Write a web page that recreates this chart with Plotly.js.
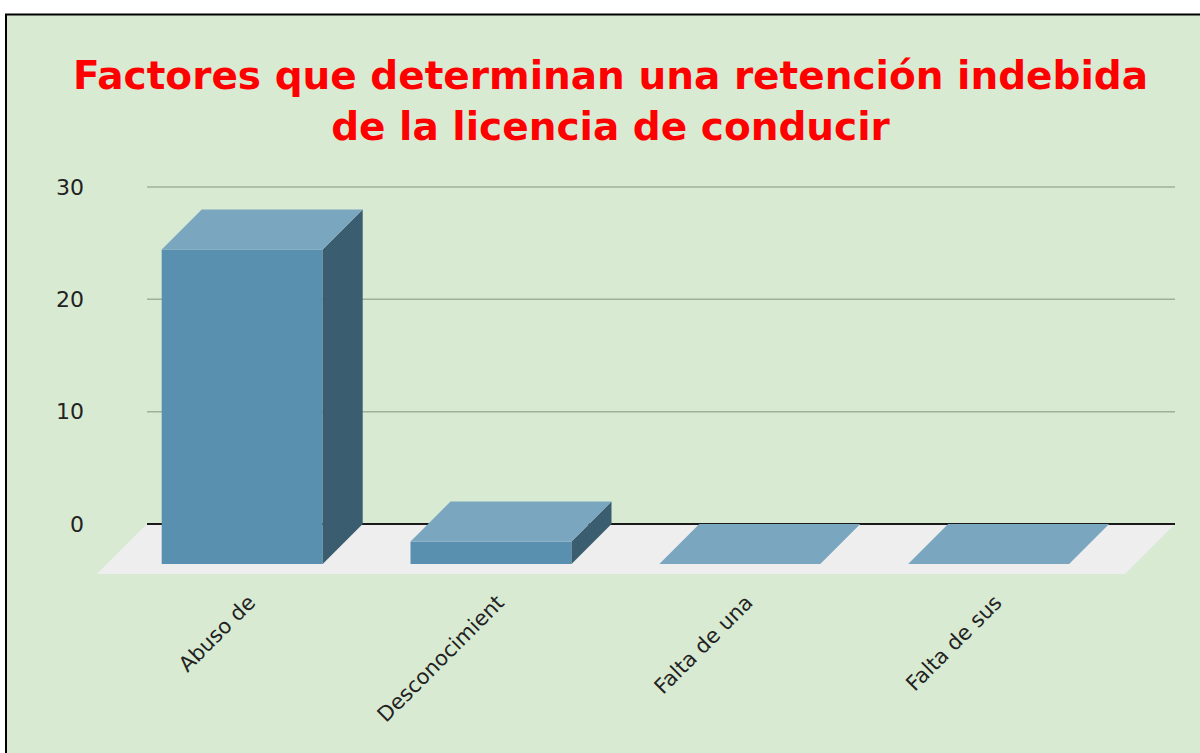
<!DOCTYPE html>
<html><head><meta charset="utf-8">
<script src="https://cdn.plot.ly/plotly-3.0.1.min.js"></script>
<style>html,body{margin:0;padding:0;background:#fff;}#chart{width:1200px;height:753px;}</style>
</head><body><div id="chart"></div>
<script>
// ---- data ----
const categories = ["Abuso de", "Desconocimient", "Falta de una", "Falta de sus"];
const values = [28, 2, 0, 0];
const yTicks = [0, 10, 20, 30];
const titleText = "Factores que determinan una retención indebida<br>de la licencia de conducir";

// ---- geometry (pixels) ----
const W = 1200, H = 753;
const PL = 97, PR = 1175, PT = 178, PB = 574;
const ZERO_Y = 524, TOP_GRID_Y = 187;
const FIRST_X = 242.2, STEP_X = 248.8;
const BAR_W_PX = 161, BAR_DEPTH = 40, FLOOR_DEPTH = 50;
const Y_TOP_TICK = 30;

const ppuY = (ZERO_Y - TOP_GRID_Y) / Y_TOP_TICK;
const ppuX = STEP_X;
const xMin = (PL - FIRST_X) / ppuX, xMax = (PR - FIRST_X) / ppuX;
const yMin = -(PB - ZERO_Y) / ppuY, yMax = (ZERO_Y - PT) / ppuY;
const dX = BAR_DEPTH / ppuX, dY = BAR_DEPTH / ppuY;
const fX = FLOOR_DEPTH / ppuX, fY = FLOOR_DEPTH / ppuY;
const hw = BAR_W_PX / ppuX / 2;
const idx = categories.map((c, i) => i);

const C_FRONT = '#5990af', C_TOP = '#7aa7bf', C_SIDE = '#3a5d6f';

const topX = [], topY = [], sideX = [], sideY = [];
idx.forEach(i => {
  const v = values[i];
  topX.push(i - hw, i + hw, i + hw + dX, i - hw + dX, i - hw, null);
  topY.push(v - dY, v - dY, v, v, v - dY, null);
  if (v > 0) {
    sideX.push(i + hw, i + hw + dX, i + hw + dX, i + hw, i + hw, null);
    sideY.push(-dY, 0, v, v - dY, -dY, null);
  }
});

const traces = [
  {type: 'bar', x: idx, y: values, base: -dY, width: 2 * hw,
   marker: {color: C_FRONT, line: {width: 0}}, hoverinfo: 'skip', showlegend: false},
  {type: 'scatter', mode: 'lines', x: sideX, y: sideY, fill: 'toself', fillcolor: C_SIDE,
   line: {width: 0, color: C_SIDE}, hoverinfo: 'skip', showlegend: false},
  {type: 'scatter', mode: 'lines', x: topX, y: topY, fill: 'toself', fillcolor: C_TOP,
   line: {width: 0, color: C_TOP}, hoverinfo: 'skip', showlegend: false}
];

const xp = px => (px - PL) / (PR - PL);
const yp = py => (PB - py) / (PB - PT);

const shapes = [
  {type: 'rect', xref: 'paper', yref: 'paper', x0: xp(6), x1: xp(1240), y0: yp(800), y1: yp(14.5),
   fillcolor: '#d9ead3', line: {color: '#000', width: 2}, layer: 'below'},
  {type: 'path', xref: 'x', yref: 'y', layer: 'below', fillcolor: '#eeeeee', line: {width: 0},
   path: `M ${xMin},${yMin} L ${xMax - fX},${yMin} L ${xMax},0 L ${xMin + fX},0 Z`}
];
yTicks.forEach(t => {
  shapes.push({type: 'line', xref: 'x', yref: 'y', layer: 'below',
    x0: xMin + fX, x1: xMax, y0: t, y1: t,
    line: t === 0 ? {color: '#1a1a1a', width: 2} : {color: '#9fb09c', width: 1.5}});
});

const tickFont = {family: 'DejaVu Sans', size: 22, color: '#222'};
const xTickFont = {family: 'DejaVu Sans', size: 21, color: '#222'};

const layout = {
  width: W, height: H,
  paper_bgcolor: '#ffffff', plot_bgcolor: 'rgba(0,0,0,0)',
  margin: {l: PL, r: W - PR, t: PT, b: H - PB, pad: 0},
  title: {text: titleText, font: {family: 'DejaVu Sans', size: 39, weight: 'bold', color: '#ff0000'},
          x: 610.5 / W, xanchor: 'center', xref: 'container', y: 1 - 89 / H, yanchor: 'top', yref: 'container'},
  xaxis: {type: 'linear', range: [xMin, xMax], tickvals: idx, ticktext: categories, tickangle: -45,
          showgrid: false, zeroline: false, showline: false, ticks: '', tickfont: xTickFont,
          ticklabelstandoff: 11, ticklabelshift: 7, automargin: false, fixedrange: true},
  yaxis: {type: 'linear', range: [yMin, yMax], tickvals: yTicks, showgrid: false, zeroline: false,
          showline: false, ticks: '', tickfont: tickFont, ticklabelstandoff: 12, automargin: false, fixedrange: true},
  shapes: shapes,
  hovermode: false, showlegend: false
};

Plotly.newPlot('chart', traces, layout, {displayModeBar: false, staticPlot: true});
</script>
</body></html>
